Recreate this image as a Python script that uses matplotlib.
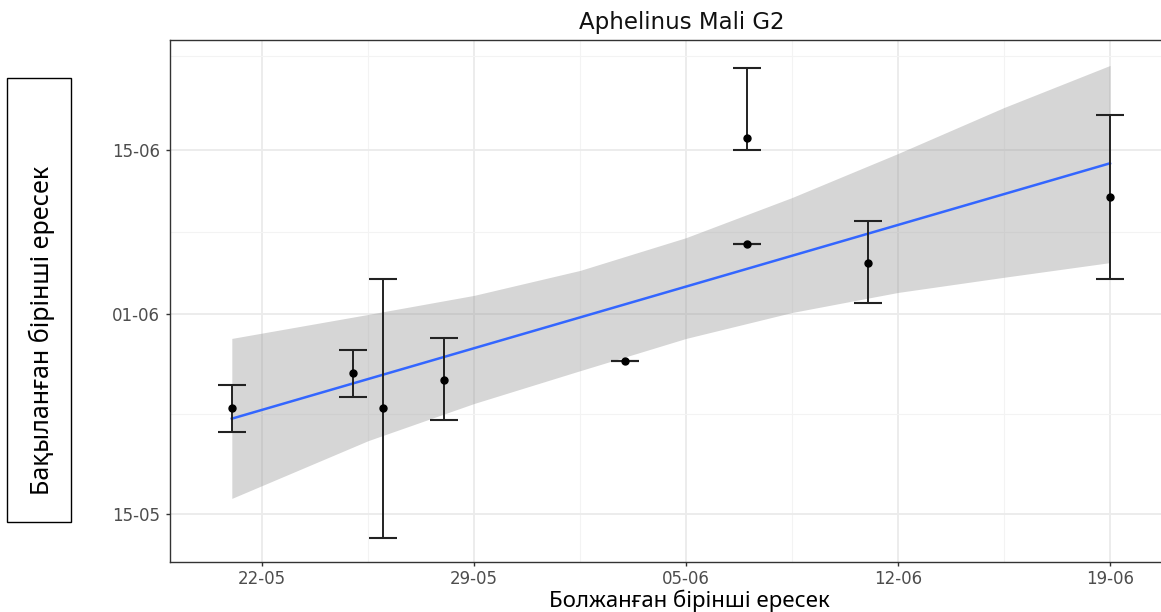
#!/usr/bin/env python3

import numpy as np
import pandas as pd
import matplotlib
matplotlib.use('Agg')
from matplotlib import pyplot as plt
import matplotlib.dates as mdates
from matplotlib.patches import Rectangle

# Predicted (x) and observed (y) first adult dates, mean with error range
x_dates = ['2019-05-21', '2019-05-25', '2019-05-26', '2019-05-28', '2019-06-03',
           '2019-06-07', '2019-06-07', '2019-06-11', '2019-06-19']
y_mean = ['2019-05-24', '2019-05-27', '2019-05-24', '2019-05-26 09:00', '2019-05-28',
          '2019-06-16', '2019-06-07', '2019-06-05 10:00', '2019-06-11']
y_low = ['2019-05-22', '2019-05-25', '2019-05-13', '2019-05-23', '2019-05-28',
         '2019-06-15', '2019-06-07', '2019-06-02', '2019-06-04']
y_high = ['2019-05-26', '2019-05-29', '2019-06-04', '2019-05-30', '2019-05-28',
          '2019-06-22', '2019-06-07', '2019-06-09', '2019-06-18']

# Linear fit and its confidence band
fit_x = ['2019-05-21', '2019-06-19']
fit_y = ['2019-05-23 03:00', '2019-06-13 21:00']
band_x = ['2019-05-21', '2019-05-25 12:00', '2019-05-29', '2019-06-01 12:00', '2019-06-05',
          '2019-06-08 12:00', '2019-06-12', '2019-06-15 12:00', '2019-06-19']
band_low = ['2019-05-16 08:00', '2019-05-21 06:00', '2019-05-24 10:00', '2019-05-27 05:00',
            '2019-05-29 23:00', '2019-06-01 04:00', '2019-06-02 21:00', '2019-06-04 04:00',
            '2019-06-05 10:00']
band_high = ['2019-05-29 23:00', '2019-06-01 00:00', '2019-06-02 15:00', '2019-06-04 18:00',
             '2019-06-07 13:00', '2019-06-10 23:00', '2019-06-14 17:00', '2019-06-18 15:00',
             '2019-06-22 05:00']

# Axis breaks
x_ticks = ['2019-05-22', '2019-05-29', '2019-06-05', '2019-06-12', '2019-06-19']
y_ticks = ['2019-05-15', '2019-06-01', '2019-06-15']
y_minor = ['2019-05-23 12:00', '2019-06-08', '2019-06-23']
x_range = ['2019-05-18 23:00', '2019-06-21 03:30']
y_range = ['2019-05-10 22:00', '2019-06-24 09:00']


def to_num(values):
    return mdates.date2num(pd.to_datetime(values, format='mixed').to_pydatetime())


x = to_num(x_dates)
y = to_num(y_mean)
lo = to_num(y_low)
hi = to_num(y_high)

fig = plt.figure(figsize=(11.61, 6.12), dpi=100)
ax = fig.add_axes([170 / 1161, 50 / 612, 1005 / 1161, 522 / 612])

# Confidence band and regression line
ax.fill_between(to_num(band_x), to_num(band_low), to_num(band_high),
                color='#999999', alpha=0.4, lw=0, zorder=2)
ax.plot(to_num(fit_x), to_num(fit_y), color='#3366FF', lw=1.8, zorder=3)

# Observed means with error bars
ax.errorbar(x, y, yerr=[y - lo, hi - y], fmt='o', color='black', ms=5,
            ecolor='#222222', elinewidth=1.4, capsize=10, capthick=1.5, zorder=4)

# Axes
ax.set_xlim(to_num(x_range))
ax.set_ylim(to_num(y_range))
xt = to_num(x_ticks)
ax.set_xticks(xt)
ax.set_xticks((xt[:-1] + xt[1:]) / 2, minor=True)
ax.set_yticks(to_num(y_ticks))
ax.set_yticks(to_num(y_minor), minor=True)
ax.xaxis.set_major_formatter(mdates.DateFormatter('%d-%m'))
ax.yaxis.set_major_formatter(mdates.DateFormatter('%d-%m'))

ax.set_axisbelow(True)
ax.grid(which='major', color='#EBEBEB', lw=1.3)
ax.grid(which='minor', color='#F3F3F3', lw=0.8)
for s in ax.spines.values():
    s.set_color('#333333')
    s.set_linewidth(1.0)
ax.spines['right'].set_visible(False)

ax.tick_params(which='major', labelsize=12, labelcolor='#4D4D4D', color='#333333',
               length=3, width=1)
ax.tick_params(axis='x', pad=3)
ax.tick_params(axis='y', pad=4)
ax.tick_params(which='minor', length=0)

# Title and axis labels
fig.text(682 / 1161, 1 - 22 / 612, 'Aphelinus Mali G2', ha='center', va='center',
         fontsize=16.5, color='#111111')
fig.text(689 / 1161, 1 - 607 / 612, 'Болжанған бірінші ересек', ha='center',
         va='baseline', fontsize=16, family='Noto Sans', color='black')

fig.patches.append(Rectangle((7 / 1161, 1 - 522 / 612), 64 / 1161, 444 / 612,
                             transform=fig.transFigure, facecolor='white',
                             edgecolor='black', lw=1))
fig.text(42 / 1161, 1 - 330 / 612, 'Бақыланған бірінші ересек', ha='center',
         va='center', rotation=90, fontsize=18, family='Noto Sans', color='black')

fig.savefig('out.png', dpi=100)
